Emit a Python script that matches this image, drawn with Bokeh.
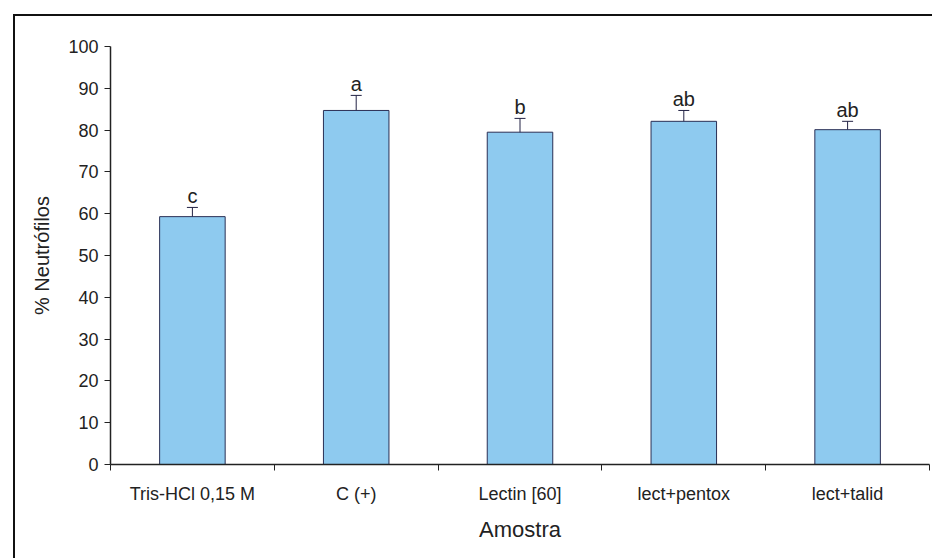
from bokeh.plotting import figure
from bokeh.models import ColumnDataSource, FixedTicker, Range1d, Whisker
from bokeh.embed import file_html
from bokeh.resources import INLINE
from bokeh.core.properties import value

# Data
categories = ["Tris-HCl 0,15 M", "C (+)", "Lectin [60]", "lect+pentox", "lect+talid"]
neutrofilos = [59.3, 84.7, 79.5, 82.1, 80.1]
erro = [2.2, 3.6, 3.3, 2.6, 2.0]
letras = ["c", "a", "b", "ab", "ab"]
y_ticks = [0, 10, 20, 30, 40, 50, 60, 70, 80, 90, 100]

xpos = [i + 0.5 for i in range(len(categories))]
upper = [v + e for v, e in zip(neutrofilos, erro)]
lower = [v - e for v, e in zip(neutrofilos, erro)]

src = ColumnDataSource(dict(x=xpos, top=neutrofilos, upper=upper, lower=lower,
                            letra=letras))

FONT = "Liberation Sans"
INK = "#222222"

p = figure(width=919, height=544, output_backend="svg", toolbar_location=None,
           x_range=Range1d(0, len(categories)), y_range=Range1d(0, 100),
           min_border_left=95, min_border_right=5, min_border_top=30,
           min_border_bottom=96)
# chart border (top and left edges) drawn around the canvas
p.styles = {"margin-left": "13px", "margin-top": "14px",
            "border-left": "2px solid #111111", "border-top": "2px solid #111111"}
p.outline_line_color = None
p.grid.grid_line_color = None
p.background_fill_color = "white"
p.border_fill_color = "white"

p.vbar(x="x", top="top", bottom=0, width=0.4, source=src,
       fill_color="#8ecaef", line_color="#2a2f55", line_width=1)

err = Whisker(base="x", upper="upper", lower="lower", source=src,
              line_color="#222244", line_width=1)
err.upper_head.size = 11
err.lower_head.size = 11
err.upper_head.line_color = "#222244"
err.lower_head.line_color = "#555577"
p.add_layout(err)

p.text(x="x", y="upper", text="letra", source=src, text_align="center",
       text_baseline="alphabetic", y_offset=-11, text_font=value(FONT),
       text_font_size="20px", text_color=INK)

# x axis: labels at category centres, ticks at category boundaries
xa = p.xaxis[0]
xa.ticker = FixedTicker(ticks=xpos, minor_ticks=list(range(len(categories) + 1)))
xa.major_label_overrides = {x: c for x, c in zip(xpos, categories)}
xa.major_tick_line_color = None
xa.minor_tick_line_color = INK
xa.minor_tick_in = 0
xa.minor_tick_out = 6
xa.axis_line_color = INK
xa.axis_line_width = 1.5
xa.major_label_text_font = FONT
xa.major_label_text_font_size = "18px"
xa.major_label_text_color = INK
xa.major_label_standoff = 13
xa.axis_label = "Amostra"
xa.axis_label_text_font = FONT
xa.axis_label_text_font_style = "normal"
xa.axis_label_text_font_size = "22px"
xa.axis_label_text_color = INK
xa.axis_label_standoff = 10

ya = p.yaxis[0]
ya.ticker = FixedTicker(ticks=y_ticks)
ya.minor_tick_line_color = None
ya.major_tick_in = 0
ya.major_tick_out = 6
ya.major_tick_line_color = INK
ya.axis_line_color = INK
ya.axis_line_width = 1.5
ya.major_label_text_font = FONT
ya.major_label_text_font_size = "18px"
ya.major_label_text_color = INK
ya.major_label_standoff = 6
ya.axis_label = "% Neutrófilos"
ya.axis_label_text_font = FONT
ya.axis_label_text_font_style = "normal"
ya.axis_label_text_font_size = "20px"
ya.axis_label_text_color = INK
ya.axis_label_standoff = 12

open("out.html", "w").write(file_html(p, INLINE))
